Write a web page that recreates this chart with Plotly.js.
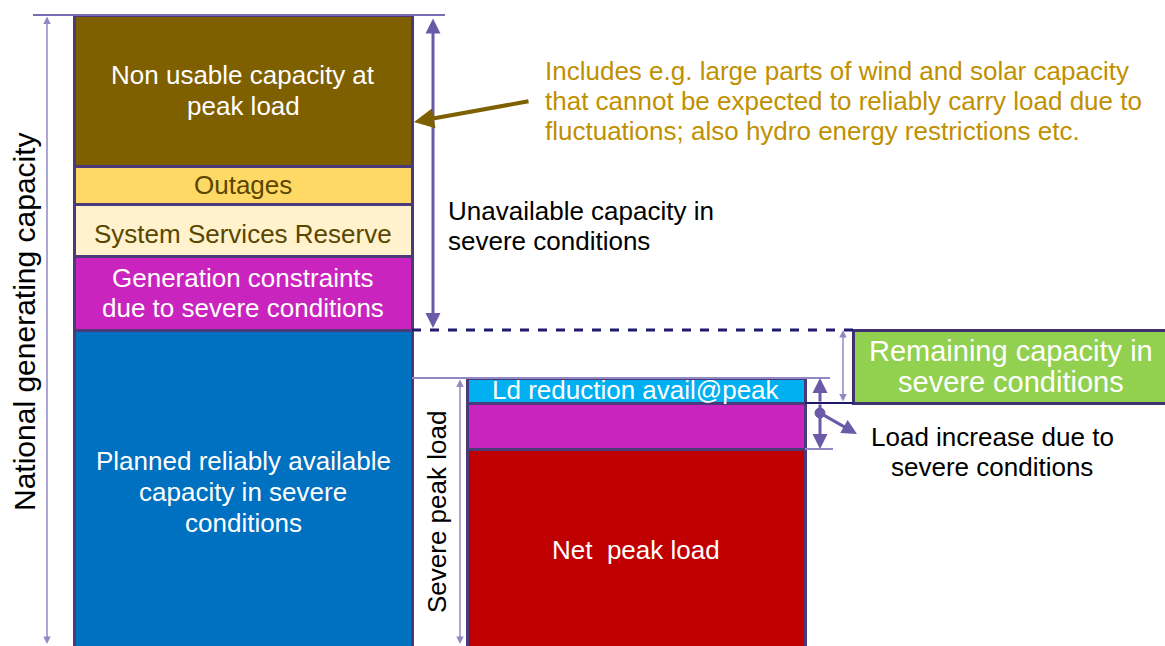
<!DOCTYPE html>
<html><head><meta charset="utf-8">
<script src="https://cdn.plot.ly/plotly-3.0.1.min.js"></script>
<style>html,body{margin:0;padding:0;background:#fff}#chart{width:1165px;height:646px}</style>
</head><body><div id="chart"></div>
<script>
// ---- data (capacity units) ----
const leftSegments = ["Planned reliably available capacity in severe conditions","Generation constraints due to severe conditions","System Services Reserve","Outages","Non usable capacity at peak load"];
const leftValues   = [336, 74, 52, 38, 151];
const leftColors   = ["#0070c0","#c925be","#fff2cc","#ffd966","#7f6000"];
const rightSegments = ["Net peak load","Load increase due to severe conditions","Ld reduction avail@peak"];
const rightValues   = [217, 46, 25];
const rightColors   = ["#c00000","#c925be","#00b0f0"];
const remainingBase  = [263];
const remainingValue = [73];

const FONT = "Liberation Sans, Arial, sans-serif";
const BORDER = "#4b3a7a";
const xL = 243, xR = 636, xG = 1011, W = 338;
const Y = p => 666 - p; // pixel row -> axis units helper for annotations

const traces = [];
leftValues.forEach((v,i)=>traces.push({type:'bar',x:[xL],y:[v],width:W,name:leftSegments[i],
  marker:{color:leftColors[i],line:{color:BORDER,width:3}},hoverinfo:'name'}));
rightValues.forEach((v,i)=>traces.push({type:'bar',x:[xR],y:[v],width:W,name:rightSegments[i],
  marker:{color:rightColors[i],line:{color:BORDER,width:3}},hoverinfo:'name'}));
traces.push({type:'bar',x:[xG],y:remainingValue,base:remainingBase,width:316,name:'Remaining capacity',
  marker:{color:'#92d050',line:{color:'#3d3170',width:3}},hoverinfo:'name'});

const cum = a => a.reduce((s,v)=>{s.push((s.length?s[s.length-1]:0)+v);return s;},[]);
const lc = cum(leftValues), rc = cum(rightValues);
const topL = lc[lc.length-1], blueTop = lc[0], topR = rc[rc.length-1], incTop = rc[1], netTop = rc[0];

const thin = '#9288c4', mid = '#6a5aa8', navy = '#1f1a6b';
const shapes = [
  {type:'line',x0:33,x1:445,y0:topL,y1:topL,line:{color:'#7a6cb4',width:2}},
  {type:'line',x0:412,x1:853,y0:blueTop,y1:blueTop,line:{color:navy,width:3,dash:'dash'}},
  {type:'line',x0:412,x1:830,y0:topR,y1:topR,line:{color:thin,width:2}},
  {type:'line',x0:805,x1:853,y0:incTop,y1:incTop,line:{color:navy,width:2}},
  {type:'line',x0:805,x1:833,y0:netTop,y1:netTop,line:{color:thin,width:2}},
  {type:'circle',x0:815,x1:825,y0:Y(418),y1:Y(408),fillcolor:mid,line:{color:mid,width:1}}
];

function arrow(x0,y0,x1,y1,color,width,both,head){
  return {x:x1,y:y1,ax:x0,ay:y0,xref:'x',yref:'y',axref:'x',ayref:'y',text:'',showarrow:true,
    arrowhead:head||2,startarrowhead:head||2,arrowside:both?'end+start':'end',arrowcolor:color,arrowwidth:width,arrowsize:1,startarrowsize:1,standoff:0,startstandoff:0};
}
function label(x,y,text,size,color,opt){
  return Object.assign({x:x,y:y,xref:'x',yref:'y',text:text,showarrow:false,
    font:{family:FONT,size:size,color:color},align:'center',xanchor:'center',yanchor:'middle'},opt||{});
}
// multi-line block: one annotation per line, at given pixel rows
function lines(x,rows,texts,size,color,opt){
  return texts.map((t,i)=>label(x,Y(rows[i]),t,size,color,opt));
}
const annotations = [
  arrow(47,topL,47,Y(644),thin,1.5,true,2),
  arrow(433,topL-2,433,blueTop+2,mid,3,true,2),
  arrow(460,topR,460,Y(644),thin,1.5,true,2),
  arrow(820,incTop,820,topR,mid,3,false,2),
  arrow(820,incTop,820,netTop,mid,3,false,2),
  arrow(820,Y(413),857,Y(434),mid,3,false,2),
  arrow(843,incTop,843,blueTop,thin,1.5,true,2),
  arrow(530,Y(101),414,Y(122),'#7f6000',4,false,2),
  ...lines(xL,[75,106],['Non usable capacity at','peak load'],26,'#ffffff'),
  label(xL,Y(185),'Outages',26,'#5a4600'),
  label(xL,Y(234),'System Services Reserve',26,'#5a4600'),
  ...lines(xL,[278,308],['Generation constraints','due to severe conditions'],26,'#ffffff'),
  ...lines(xL,[461,492,523],['Planned reliably available','capacity in severe','conditions'],26,'#ffffff'),
  label(xR,Y(390),'Ld reduction avail@peak',26,'#ffffff'),
  label(xR,Y(550),'Net  peak load',26,'#ffffff'),
  ...lines(1011,[351,382],['Remaining capacity in','severe conditions'],29,'#ffffff'),
  ...lines(992,[437,467],['Load increase due to','severe conditions'],26,'#000000'),
  ...lines(446,[211,241],['Unavailable capacity in','severe conditions'],26,'#000000',{xanchor:'left',align:'left'}),
  ...lines(543,[71,101,131],['Includes e.g. large parts of wind and solar capacity','that cannot be expected to reliably carry load due to','fluctuations; also hydro energy restrictions etc.'],26,'#bf9000',{xanchor:'left',align:'left'}),
  label(24,Y(322),'National generating capacity',30,'#000000',{textangle:-90}),
  label(437,Y(512),'Severe peak load',26,'#000000',{textangle:-90})
];

const layout = {
  width:1165,height:646,margin:{l:0,r:0,t:0,b:0},
  paper_bgcolor:'#fff',plot_bgcolor:'#fff',showlegend:false,barmode:'stack',
  xaxis:{range:[0,1165],visible:false,fixedrange:true},
  yaxis:{range:[20,666],visible:false,fixedrange:true},
  shapes:shapes,annotations:annotations
};
Plotly.newPlot('chart',traces,layout,{displayModeBar:false,staticPlot:true});
</script></body></html>
